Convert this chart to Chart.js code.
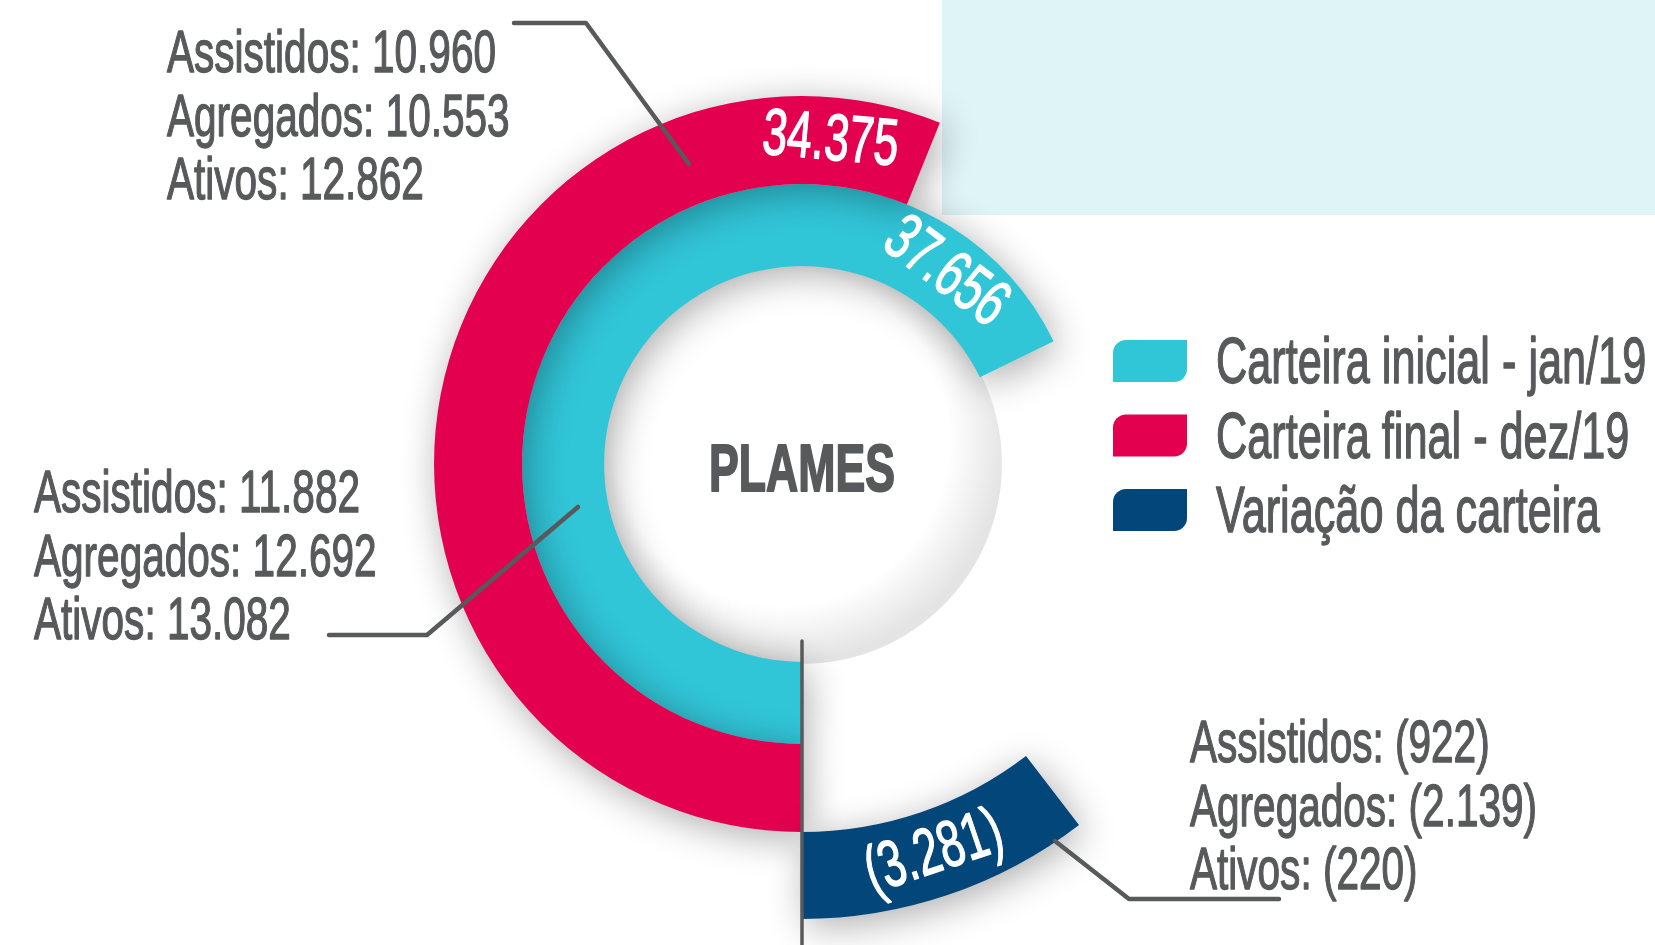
<!DOCTYPE html>
<html>
<head>
<meta charset="utf-8">
<script src="https://cdn.jsdelivr.net/npm/chart.js@4.4.1/dist/chart.umd.min.js"></script>
<style>
  html, body { margin: 0; padding: 0; background: #fff; }
  #wrap { width: 1655px; height: 945px; position: relative; }
</style>
</head>
<body>
<div id="wrap"><canvas id="plames" width="1655" height="945"></canvas></div>
<script>
const series = ["Carteira inicial - jan/19", "Carteira final - dez/19", "Variação da carteira"];
const segments = ["Assistidos", "Agregados", "Ativos"];
const inicial = [11882, 12692, 13082];
const final = [10960, 10553, 12862];
const variacao = [-922, -2139, -220];
const centerTitle = "PLAMES";

const sum = (arr) => arr.reduce((a, b) => a + b, 0);
const totals = [sum(inicial), sum(final), sum(variacao)];
const breakdown = [inicial, final, variacao];

// pt-BR style numbers, negatives in brackets
const fmt = (v) => {
  const s = Math.abs(v).toString().replace(/\B(?=(\d{3})+(?!\d))/g, ".");
  return v < 0 ? `(${s})` : s;
};

const colors = ["#31c5d8", "#e2004f", "#03467a"];
const textColor = "#58595b";
const FONT = "'Liberation Sans Narrow', 'Liberation Sans', Arial, sans-serif";

// the infographic does not draw arcs to scale, so each ring gets its own sweep
const sweep = [244, 202, 37.5];
const ringOrder = [2, 1, 0]; // outer -> inner
const ringWeight = [87, 88, 82];
const labelPos = [0.889, 0.916, 0.5]; // where the value sits along its arc

const datasets = ringOrder.map((s, i) => {
  const v = Math.abs(totals[s]);
  return {
    label: series[s],
    data: [v, v * (360 / sweep[s] - 1)],
    backgroundColor: [colors[s], "rgba(0,0,0,0)"],
    borderWidth: 0,
    rotation: s === 2 ? 180 - sweep[s] : 180,
    weight: ringWeight[i],
    clip: false,
  };
});

let sx = 0.84;

// condensed look: squeeze horizontally, stroke a little to get a medium weight
function squeezed(ctx, text, x, y, rot, align, bold) {
  ctx.save();
  ctx.translate(x, y);
  ctx.rotate(rot);
  ctx.scale(sx, 1);
  ctx.textAlign = align;
  ctx.fillText(text, 0, 0);
  ctx.lineWidth = bold || 1.4;
  ctx.strokeStyle = ctx.fillStyle;
  ctx.lineJoin = "round";
  ctx.strokeText(text, 0, 0);
  ctx.restore();
}

function polyline(ctx, pts) {
  ctx.beginPath();
  pts.forEach(([x, y], i) => (i ? ctx.lineTo(x, y) : ctx.moveTo(x, y)));
  ctx.stroke();
}

const decor = {
  id: "decor",
  beforeDatasetsDraw(chart) {
    const ctx = chart.ctx;
    ctx.save();
    ctx.fillStyle = "#dff4f7";
    ctx.fillRect(942, 0, 713, 215);
    // soft shading inside the hole
    const arc = chart.getDatasetMeta(2).data[0];
    const g = ctx.createRadialGradient(arc.x - 20, arc.y - 25, 0, arc.x - 20, arc.y - 25, arc.innerRadius + 25);
    g.addColorStop(0, "#ffffff");
    g.addColorStop(0.75, "#ffffff");
    g.addColorStop(1, "#e4e4e4");
    ctx.fillStyle = g;
    ctx.beginPath();
    ctx.arc(arc.x, arc.y, arc.innerRadius + 2, 0, Math.PI * 2);
    ctx.fill();
    ctx.restore();
  },
  beforeDatasetDraw(chart) {
    const ctx = chart.ctx;
    ctx.save();
    ctx.shadowColor = "rgba(0,0,0,0.33)";
    ctx.shadowBlur = 38;
    ctx.shadowOffsetX = 5;
    ctx.shadowOffsetY = 7;
  },
  afterDatasetDraw(chart) {
    chart.ctx.restore();
  },
  afterDatasetsDraw(chart) {
    const ctx = chart.ctx;
    ctx.save();

    // measure once so the face lands on the reference width
    ctx.font = `60px ${FONT}`;
    sx = 329 / ctx.measureText("Assistidos: 10.960").width;

    // value labels on the arcs
    ctx.fillStyle = "#fff";
    ctx.textBaseline = "middle";
    ctx.font = `66px ${FONT}`;
    ringOrder.forEach((s, i) => {
      const arc = chart.getDatasetMeta(i).data[0];
      const a = arc.startAngle + labelPos[s] * (arc.endAngle - arc.startAngle);
      const r = (arc.innerRadius + arc.outerRadius) / 2;
      let rot = a + Math.PI / 2;
      if (Math.sin(a) > 0) rot -= Math.PI;
      squeezed(ctx, fmt(totals[s]), arc.x + Math.cos(a) * r, arc.y + Math.sin(a) * r, rot, "center");
    });

    // leader lines
    ctx.strokeStyle = textColor;
    ctx.lineWidth = 4.5;
    ctx.lineCap = "round";
    ctx.lineJoin = "round";
    polyline(ctx, [[514, 23], [586, 23], [689, 164]]);
    polyline(ctx, [[578, 507], [427, 635], [329, 635]]);
    polyline(ctx, [[1055, 841], [1129, 899], [1279, 899]]);
    ctx.lineWidth = 3.5;
    polyline(ctx, [[802, 641], [802, 945]]);

    // breakdown blocks
    ctx.fillStyle = textColor;
    ctx.textBaseline = "alphabetic";
    ctx.font = `60px ${FONT}`;
    const blocks = [
      { s: 1, x: 167, y: 72 },
      { s: 0, x: 34, y: 512 },
      { s: 2, x: 1190, y: 762 },
    ];
    blocks.forEach((b) => {
      segments.forEach((seg, k) => {
        squeezed(ctx, `${seg}: ${fmt(breakdown[b.s][k])}`, b.x, b.y + k * 63.5, 0, "left");
      });
    });

    // centre title
    ctx.font = `bold 66px ${FONT}`;
    squeezed(ctx, centerTitle, 802, 491, 0, "center", 2);

    // legend
    ctx.font = `64px ${FONT}`;
    series.forEach((name, k) => {
      const y = 340 + k * 74.5;
      ctx.fillStyle = colors[k];
      ctx.beginPath();
      ctx.roundRect(1113, y, 74, 42, [13, 0, 13, 0]);
      ctx.fill();
      ctx.fillStyle = textColor;
      squeezed(ctx, name, 1216, y + 43, 0, "left");
    });

    ctx.restore();
  },
};

new Chart(document.getElementById("plames"), {
  type: "doughnut",
  data: { labels: ["valor", ""], datasets },
  options: {
    responsive: false,
    animation: false,
    cutout: "43.5%",
    layout: { padding: { left: 347, right: 398, top: 9, bottom: 26 } },
    plugins: { legend: { display: false }, tooltip: { enabled: false } },
    events: [],
  },
  plugins: [decor],
});
</script>
</body>
</html>
